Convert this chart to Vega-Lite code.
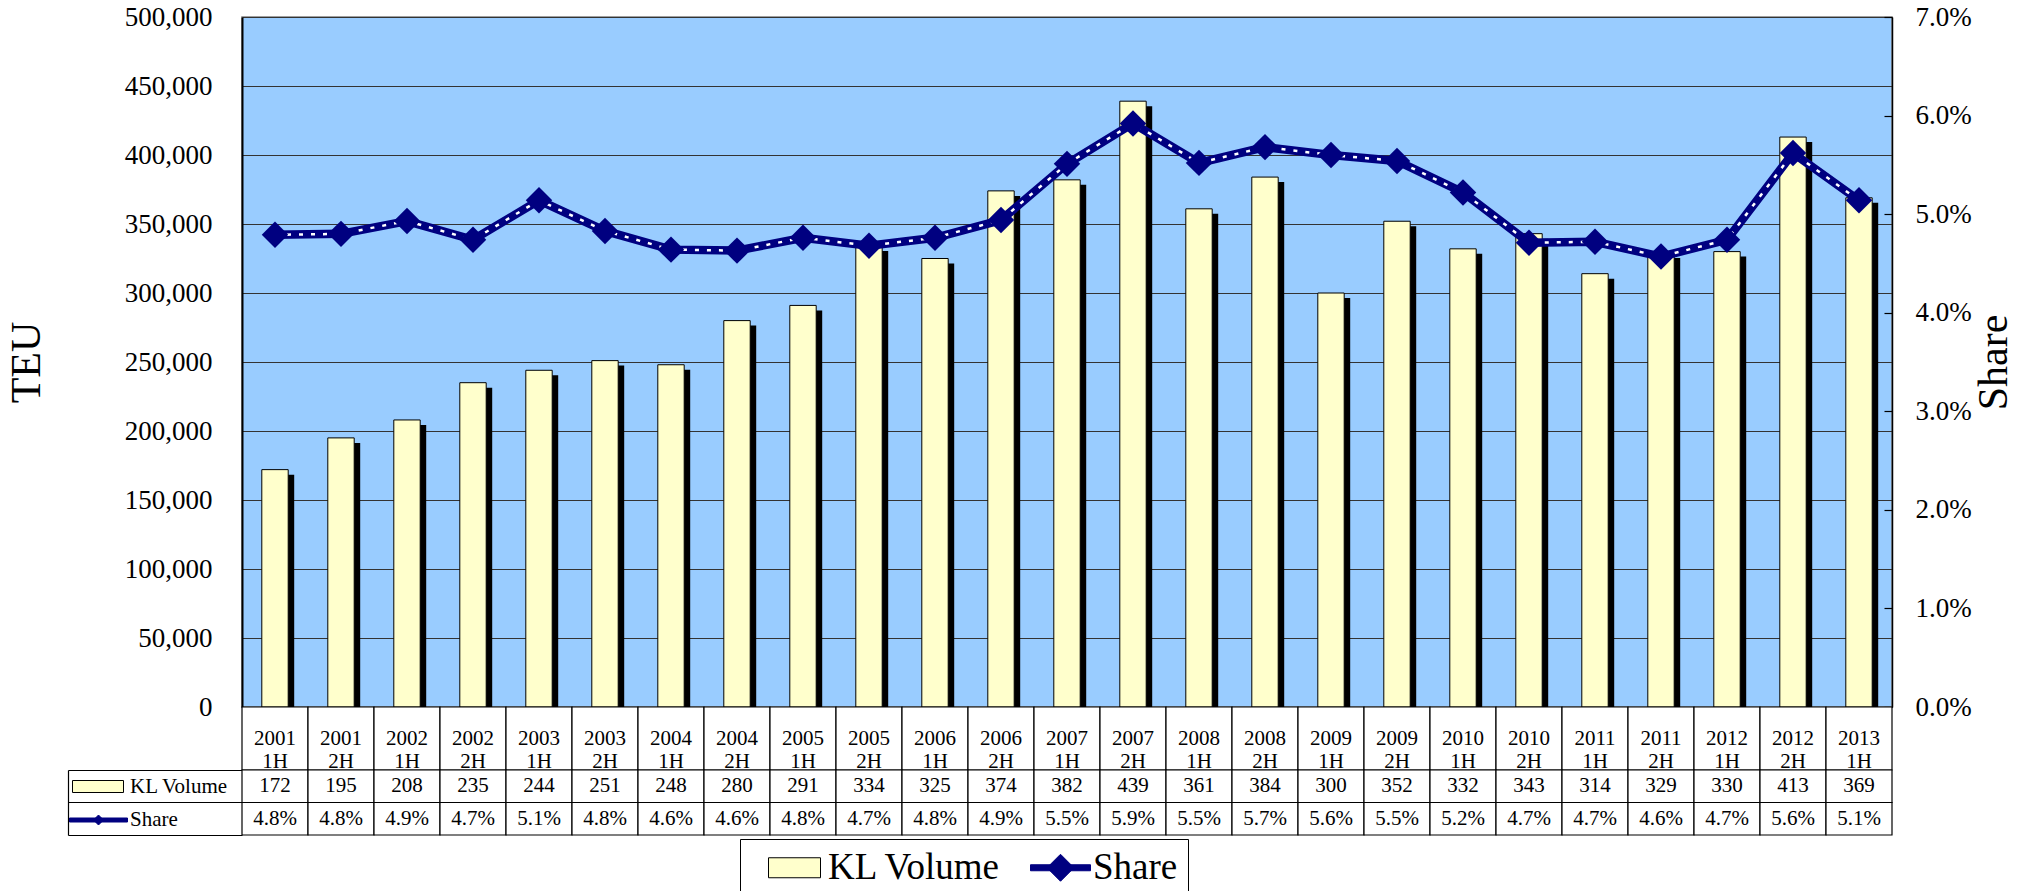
{
  "$schema": "https://vega.github.io/schema/vega-lite/v6.json",
  "background": "white",
  "padding": {"left": 4, "top": 2, "right": 0, "bottom": 0},
  "bounds": "flush",
  "spacing": 0,
  "data": {"values": [
    {"period": "2001 1H", "vol": 172, "share": 0.0479},
    {"period": "2001 2H", "vol": 195, "share": 0.0480},
    {"period": "2002 1H", "vol": 208, "share": 0.0493},
    {"period": "2002 2H", "vol": 235, "share": 0.0474},
    {"period": "2003 1H", "vol": 244, "share": 0.0514},
    {"period": "2003 2H", "vol": 251, "share": 0.0483},
    {"period": "2004 1H", "vol": 248, "share": 0.0464},
    {"period": "2004 2H", "vol": 280, "share": 0.0463},
    {"period": "2005 1H", "vol": 291, "share": 0.0476},
    {"period": "2005 2H", "vol": 334, "share": 0.0468},
    {"period": "2006 1H", "vol": 325, "share": 0.0476},
    {"period": "2006 2H", "vol": 374, "share": 0.0494},
    {"period": "2007 1H", "vol": 382, "share": 0.0551},
    {"period": "2007 2H", "vol": 439, "share": 0.0592},
    {"period": "2008 1H", "vol": 361, "share": 0.0552},
    {"period": "2008 2H", "vol": 384, "share": 0.0568},
    {"period": "2009 1H", "vol": 300, "share": 0.0560},
    {"period": "2009 2H", "vol": 352, "share": 0.0554},
    {"period": "2010 1H", "vol": 332, "share": 0.0522},
    {"period": "2010 2H", "vol": 343, "share": 0.0471},
    {"period": "2011 1H", "vol": 314, "share": 0.0472},
    {"period": "2011 2H", "vol": 329, "share": 0.0457},
    {"period": "2012 1H", "vol": 330, "share": 0.0474},
    {"period": "2012 2H", "vol": 413, "share": 0.0562},
    {"period": "2013 1H", "vol": 369, "share": 0.0514}
  ]},
  "config": {
    "font": "Liberation Serif",
    "view": {"stroke": null},
    "axis": {"labelFont": "Liberation Serif", "titleFont": "Liberation Serif", "labelColor": "black", "titleColor": "black", "titleFontWeight": "normal"},
    "legend": {"labelFont": "Liberation Serif", "labelColor": "black"},
    "text": {"font": "Liberation Serif", "color": "black"}
  },
  "resolve": {
    "scale": {"x": "shared", "y": "independent", "shape": "independent", "fill": "independent", "stroke": "independent"},
    "legend": {"shape": "independent", "fill": "independent", "stroke": "independent"}
  },
  "vconcat": [
    {
      "width": 1650,
      "height": 690,
      "view": {"fill": "#99CCFF", "stroke": "#808080", "strokeWidth": 1.5},
      "encoding": {
        "x": {"field": "period", "type": "nominal", "sort": null, "scale": {"paddingInner": 0, "paddingOuter": 0}, "axis": null}
      },
      "layer": [
        {
          "layer": [
            {
              "mark": {"type": "bar", "fill": "black", "width": {"band": 0.4}, "xOffset": 6, "yOffset": 5, "clip": true},
              "encoding": {
                "y": {"field": "vol", "type": "quantitative", "scale": {"domain": [0, 500], "nice": false},
                  "axis": {"title": "TEU", "titleFontSize": 42, "titlePadding": 76, "labelFontSize": 27, "labelPadding": 30,
                    "ticks": false, "domain": true, "domainColor": "black", "domainWidth": 2,
                    "grid": true, "gridColor": "#333333", "gridWidth": 1.2,
                    "values": [0, 50, 100, 150, 200, 250, 300, 350, 400, 450, 500],
                    "labelExpr": "format(datum.value * 1000, ',')"}}
              }
            },
            {
              "mark": {"type": "bar", "fill": "#FFFFCC", "stroke": "black", "strokeWidth": 1, "width": {"band": 0.4}},
              "encoding": {"y": {"field": "vol", "type": "quantitative"}}
            }
          ]
        },
        {
          "layer": [
            {
              "mark": {"type": "line", "stroke": "#000080", "strokeWidth": 8.5},
              "encoding": {
                "y": {"field": "share", "type": "quantitative", "scale": {"domain": [0, 0.07], "nice": false},
                  "axis": {"orient": "right", "title": "Share", "titleFontSize": 42, "titleAngle": 270, "titleBaseline": "top", "titlePadding": 2,
                    "format": ".1%", "values": [0, 0.01, 0.02, 0.03, 0.04, 0.05, 0.06, 0.07],
                    "labelFontSize": 27, "labelPadding": 31, "ticks": true, "tickSize": -8, "tickColor": "black", "tickWidth": 1.2,
                    "domain": true, "domainColor": "black", "domainWidth": 1.5, "grid": false}}
              }
            },
            {
              "mark": {"type": "line", "stroke": "white", "strokeWidth": 2.5, "strokeDash": [4, 8]},
              "encoding": {"y": {"field": "share", "type": "quantitative"}}
            },
            {
              "mark": {"type": "point", "shape": "diamond", "size": 700, "filled": true, "fill": "#000080", "opacity": 1},
              "encoding": {"y": {"field": "share", "type": "quantitative"}}
            }
          ]
        },
        {
          "layer": [
            {
              "mark": {"type": "point", "opacity": 0, "filled": true},
              "encoding": {
                "shape": {"datum": "KL Volume", "type": "nominal",
                  "scale": {"domain": ["KL Volume", "Share"], "range": ["M0,-1H5.2V1H0Z", "M-0.3,-0.3H5.7V0.3H-0.3Z M2.7,-1.35L4.05,0L2.7,1.35L1.35,0Z"]},
                  "legend": {"orient": "none", "legendX": 498, "legendY": 822, "direction": "horizontal", "title": null,
                    "labelFontSize": 37, "labelLimit": 400, "strokeColor": "black", "fillColor": "white", "padding": 10,
                    "symbolSize": 400, "symbolStrokeWidth": 1, "labelOffset": 41, "columnPadding": 13}},
                "fill": {"datum": "KL Volume", "type": "nominal",
                  "scale": {"domain": ["KL Volume", "Share"], "range": ["#FFFFCC", "#000080"]},
                  "legend": {"orient": "none", "legendX": 498, "legendY": 822, "direction": "horizontal", "title": null,
                    "labelFontSize": 37, "labelLimit": 400, "strokeColor": "black", "fillColor": "white", "padding": 10,
                    "symbolSize": 400, "symbolStrokeWidth": 1, "labelOffset": 41, "columnPadding": 13}},
                "stroke": {"datum": "KL Volume", "type": "nominal",
                  "scale": {"domain": ["KL Volume", "Share"], "range": ["black", "#000080"]},
                  "legend": {"orient": "none", "legendX": 498, "legendY": 822, "direction": "horizontal", "title": null,
                    "labelFontSize": 37, "labelLimit": 400, "strokeColor": "black", "fillColor": "white", "padding": 10,
                    "symbolSize": 400, "symbolStrokeWidth": 1, "labelOffset": 41, "columnPadding": 13}}
              }
            },
            {
              "mark": {"type": "point", "opacity": 0, "filled": true},
              "encoding": {
                "shape": {"datum": "Share", "type": "nominal"},
                "fill": {"datum": "Share", "type": "nominal"},
                "stroke": {"datum": "Share", "type": "nominal"}
              }
            }
          ]
        }
      ],
      "resolve": {"scale": {"y": "independent"}}
    },
    {
      "width": 1650,
      "height": 63,
      "encoding": {
        "x": {"field": "period", "type": "nominal", "sort": null, "scale": {"paddingInner": 0, "paddingOuter": 0}, "axis": null}
      },
      "layer": [
        {"mark": {"type": "rect", "fill": "white", "stroke": "black", "strokeWidth": 1.2}},
        {"mark": {"type": "text", "fontSize": 21, "lineBreak": " ", "lineHeight": 23}, "encoding": {"text": {"field": "period"}}}
      ]
    },
    {
      "width": 1650,
      "height": 65,
      "encoding": {
        "x": {"field": "period", "type": "nominal", "sort": null, "scale": {"paddingInner": 0, "paddingOuter": 0}, "axis": null}
      },
      "layer": [
        {
          "mark": {"type": "point", "opacity": 0, "filled": true},
          "encoding": {
            "y": {"datum": "KL Volume", "type": "nominal", "scale": {"domain": ["KL Volume", "Share"], "paddingInner": 0, "paddingOuter": 0},
              "axis": {"orient": "left", "title": null, "labels": false, "domain": true, "domainColor": "black", "domainWidth": 1.2,
                "offset": 174, "ticks": true, "tickSize": -174, "tickColor": "black", "tickWidth": 1.2,
                "bandPosition": 1, "tickExtra": true, "grid": false}},
            "shape": {"datum": "KL Volume", "type": "nominal",
              "scale": {"domain": ["KL Volume", "Share"], "range": ["M-1,-0.6H4.1V0.6H-1Z", "M-1.3,-0.2H4.5V0.2H-1.3Z M1.6,-0.5L2.1,0L1.6,0.5L1.1,0Z"]},
              "legend": {"orient": "none", "legendX": -170, "legendY": 6, "direction": "vertical", "title": null,
                "labelFontSize": 21, "padding": 0, "symbolSize": 400, "symbolStrokeWidth": 1, "labelOffset": 37, "rowPadding": 11.5}},
            "fill": {"datum": "KL Volume", "type": "nominal",
              "scale": {"domain": ["KL Volume", "Share"], "range": ["#FFFFCC", "#000080"]},
              "legend": {"orient": "none", "legendX": -170, "legendY": 6, "direction": "vertical", "title": null,
                "labelFontSize": 21, "padding": 0, "symbolSize": 400, "symbolStrokeWidth": 1, "labelOffset": 37, "rowPadding": 11.5}},
            "stroke": {"datum": "KL Volume", "type": "nominal",
              "scale": {"domain": ["KL Volume", "Share"], "range": ["black", "#000080"]},
              "legend": {"orient": "none", "legendX": -170, "legendY": 6, "direction": "vertical", "title": null,
                "labelFontSize": 21, "padding": 0, "symbolSize": 400, "symbolStrokeWidth": 1, "labelOffset": 37, "rowPadding": 11.5}}
          }
        },
        {
          "mark": {"type": "point", "opacity": 0, "filled": true},
          "encoding": {
            "y": {"datum": "Share", "type": "nominal"},
            "shape": {"datum": "Share", "type": "nominal"},
            "fill": {"datum": "Share", "type": "nominal"},
            "stroke": {"datum": "Share", "type": "nominal"}
          }
        },
        {
          "mark": {"type": "rect", "fill": "white", "stroke": "black", "strokeWidth": 1.2},
          "encoding": {"y": {"datum": "KL Volume", "type": "nominal"}}
        },
        {
          "mark": {"type": "rect", "fill": "white", "stroke": "black", "strokeWidth": 1.2},
          "encoding": {"y": {"datum": "Share", "type": "nominal"}}
        },
        {
          "mark": {"type": "text", "fontSize": 21},
          "encoding": {"y": {"datum": "KL Volume", "type": "nominal"}, "text": {"field": "vol", "type": "quantitative"}}
        },
        {
          "mark": {"type": "text", "fontSize": 21},
          "encoding": {"y": {"datum": "Share", "type": "nominal"}, "text": {"field": "share", "type": "quantitative", "format": ".1%"}}
        }
      ]
    }
  ]
}
